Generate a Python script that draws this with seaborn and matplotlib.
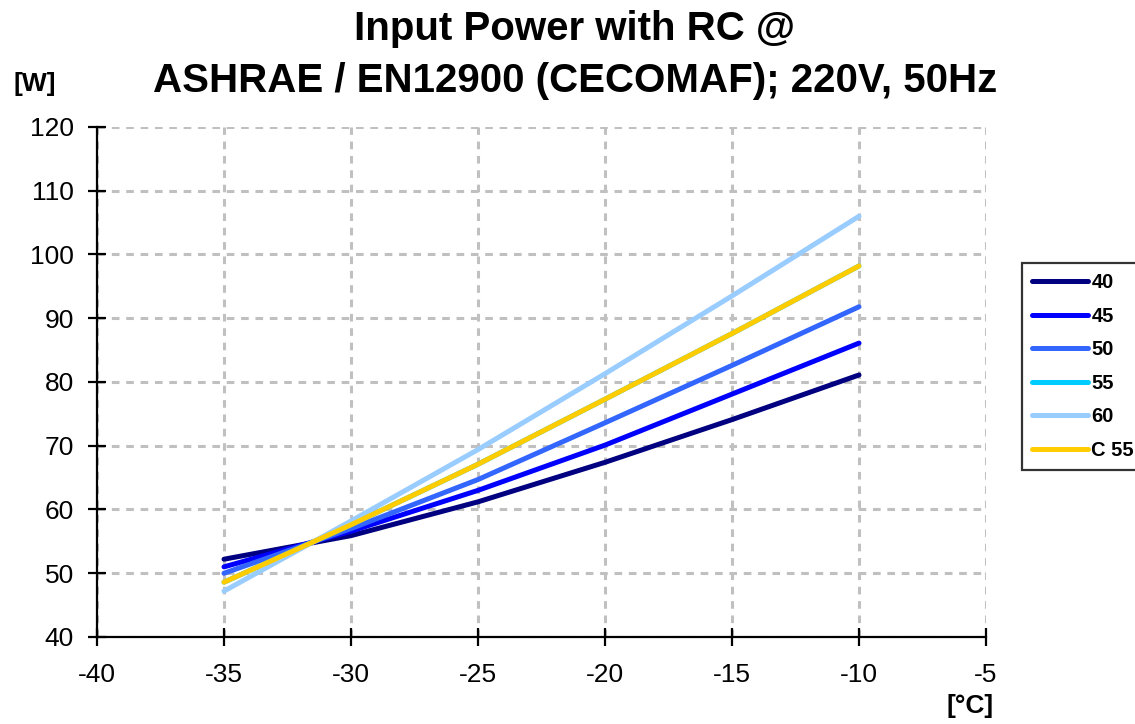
import pandas as pd
import matplotlib
matplotlib.use("Agg")
import matplotlib.pyplot as plt
import seaborn as sns

# evaporating temperature [°C]
temps = [-35, -30, -25, -20, -15, -10]

# input power [W] per condensing temperature
p40 = [52.2, 55.9, 61.2, 67.4, 74.1, 81.1]
p45 = [51.0, 56.6, 63.0, 70.1, 78.1, 86.1]
p50 = [50.0, 57.0, 64.7, 73.6, 82.6, 91.8]
p55 = [48.6, 57.6, 67.1, 77.3, 87.6, 98.2]
p60 = [47.2, 58.2, 69.4, 81.3, 93.5, 106.0]
pc55 = [48.6, 57.6, 67.1, 77.3, 87.6, 98.2]

names = ["40", "45", "50", "55", "60", "C 55"]
colors = ["#000080", "#0000FF", "#3366FF", "#00CCFF", "#99CCFF", "#FFCC00"]

rows = []
for name, vals in zip(names, [p40, p45, p50, p55, p60, pc55]):
    for t, v in zip(temps, vals):
        rows.append({"temp": t, "power": v, "series": name})
df = pd.DataFrame(rows)

sns.set_style("white")
plt.rcParams["font.family"] = ["Liberation Sans", "DejaVu Sans"]
plt.rcParams["axes.unicode_minus"] = False
plt.rcParams["text.color"] = "black"
plt.rcParams["xtick.color"] = "black"
plt.rcParams["ytick.color"] = "black"

fig = plt.figure(figsize=(11.35, 7.24), dpi=100)
ax = fig.add_axes([97 / 1135, 1 - 637 / 724, (986 - 97) / 1135, (637 - 127) / 724])

sns.lineplot(data=df, x="temp", y="power", hue="series", hue_order=names,
             palette=colors, linewidth=3.6, ax=ax, legend=True,
             solid_capstyle="round")

ax.set_xlim(-40, -5)
ax.set_ylim(40, 120)
ax.set_xticks(range(-40, -4, 5))
ax.set_yticks(range(40, 121, 10))
ax.grid(True, color="#c0c0c0", linestyle=(0, (2.5, 2.2)), linewidth=2.2)
ax.set_axisbelow(True)
for side in ["top", "right"]:
    ax.spines[side].set_visible(False)
for side in ["left", "bottom"]:
    ax.spines[side].set_color("black")
    ax.spines[side].set_linewidth(1.6)
    ax.spines[side].set_zorder(2.5)
ax.tick_params(axis="both", direction="inout", length=13, width=1.6,
               color="black", labelsize=19, labelcolor="black",
               bottom=True, left=True)
ax.tick_params(axis="x", pad=12)
ax.tick_params(axis="y", pad=10)
ax.set_xlabel("")
ax.set_ylabel("")

fig.text(575 / 1135, 1 - 29 / 724, "Input Power with RC @", ha="center", va="center",
         fontsize=29, fontweight="bold")
fig.text(575 / 1135, 1 - 81 / 724, "ASHRAE / EN12900 (CECOMAF); 220V, 50Hz",
         ha="center", va="center", fontsize=29, fontweight="bold")
fig.text(35 / 1135, 1 - 84 / 724, "[W]", ha="center", va="center",
         fontsize=19, fontweight="bold")
fig.text(970 / 1135, 1 - 706 / 724, "[°C]", ha="center", va="center",
         fontsize=19, fontweight="bold")

handles, labels = ax.get_legend_handles_labels()
ax.get_legend().remove()
leg = fig.legend(handles, labels, loc="upper left",
                 bbox_to_anchor=(1022 / 1135, 1 - 263 / 724),
                 borderaxespad=0, frameon=True, fancybox=False,
                 handlelength=2.8, handletextpad=0.15, labelspacing=0.72,
                 borderpad=0.5, prop={"weight": "bold", "size": 14.5})
leg.get_frame().set_edgecolor("black")
leg.get_frame().set_linewidth(1.6)
for h in leg.get_lines():
    h.set_linewidth(3.6)
    h.set_solid_capstyle("round")

fig.savefig("out.png", dpi=100)
